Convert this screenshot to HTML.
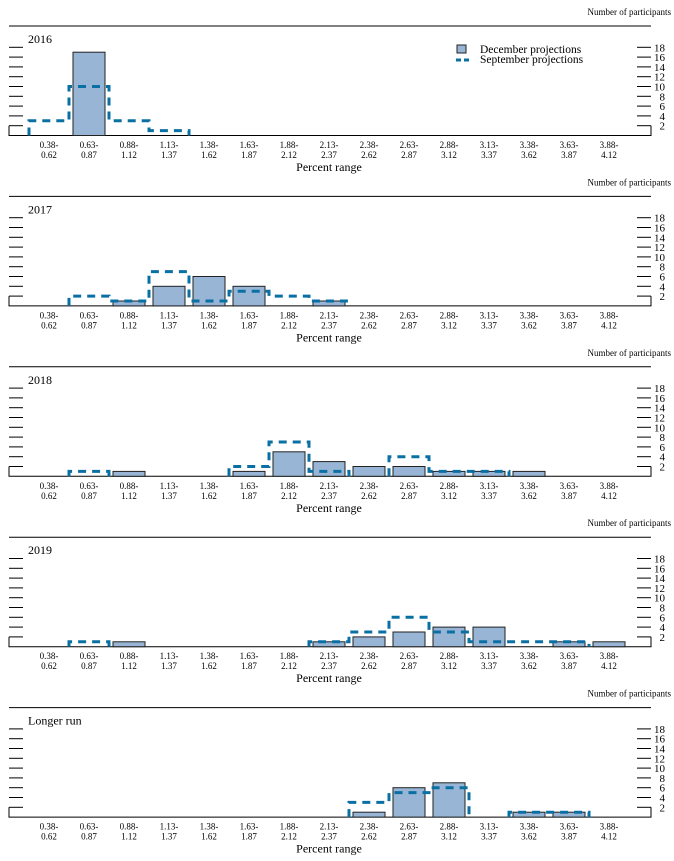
<!DOCTYPE html>
<html><head><meta charset="utf-8"><style>
body{margin:0;background:#fff}
svg{display:block;font-family:"Liberation Serif",serif}
</style></head><body>
<svg id="c" width="674" height="861"></svg>
<script>
const cats=["0.38-|0.62","0.63-|0.87","0.88-|1.12","1.13-|1.37","1.38-|1.62","1.63-|1.87","1.88-|2.12","2.13-|2.37","2.38-|2.62","2.63-|2.87","2.88-|3.12","3.13-|3.37","3.38-|3.62","3.63-|3.87","3.88-|4.12"];
const panelTitles=["2016","2017","2018","2019","Longer run"];
const decValues=[
[0,17,0,0,0,0,0,0,0,0,0,0,0,0,0],
[0,0,1,4,6,4,0,1,0,0,0,0,0,0,0],
[0,0,1,0,0,1,5,3,2,2,1,1,1,0,0],
[0,0,1,0,0,0,0,1,2,3,4,4,0,1,1],
[0,0,0,0,0,0,0,0,1,6,7,0,1,1,0]];
const sepValues=[
[3,10,3,1,0,0,0,0,0,0,0,0,0,0,0],
[0,2,1,7,1,3,2,1,0,0,0,0,0,0,0],
[0,1,0,0,0,2,7,1,0,4,1,1,0,0,0],
[0,1,0,0,0,0,0,1,3,6,3,1,1,1,0],
[0,0,0,0,0,0,0,0,3,5,6,0,1,1,0]];
const yTicks=[2,4,6,8,10,12,14,16,18];
const NS="http://www.w3.org/2000/svg";
const svg=document.getElementById('c');
function mk(t,a,p){const e=document.createElementNS(NS,t);for(const k in a)e.setAttribute(k,a[k]);(p||svg).appendChild(e);return e;}
const xC=i=>49+40*i;
for(let p=0;p<5;p++){
  const off=170.4*p, base=135.5+off;
  const y=v=>base-v*4.9;
  const g=mk('g',{});
  
  
  let t=mk('text',{x:671,y:15+off,'font-size':9,'text-anchor':'end'},g);t.textContent='Number of participants';
  
  
  mk('line',{x1:9,x2:651,y1:26+off,y2:26+off,stroke:'#000','stroke-width':1},g);
  t=mk('text',{x:28,y:43+off,'font-size':12},g);t.textContent=panelTitles[p];
  
  
  mk('path',{d:`M9,${y(2)}V${base}H651V${y(2)}`,fill:'none',stroke:'#000','stroke-width':1},g);
  yTicks.forEach(v=>{
    mk('line',{x1:9,x2:23,y1:y(v),y2:y(v),stroke:'#000','stroke-width':1},g);
    mk('line',{x1:637,x2:651,y1:y(v),y2:y(v),stroke:'#000','stroke-width':1},g);
    const tl=mk('text',{x:665,y:y(v)+4,'font-size':11,'text-anchor':'end'},g);tl.textContent=v;
    
    
  });
  decValues[p].forEach((v,i)=>{
    if(!v)return;
    const r=mk('rect',{x:xC(i)-16,y:y(v),width:32,height:base-y(v),fill:'#98b5d5',stroke:'#222','stroke-width':1},g);
    
    
  });
  const s=sepValues[p];let d='';let i=0;
  while(i<s.length){
    if(!s[i]){i++;continue;}
    d+=`M${xC(i)-20},${base}`;
    while(i<s.length&&s[i]){d+=`V${y(s[i])}H${xC(i)+20}`;i++;}
    d+=`V${base}`;
  }
  const ln=mk('path',{d:d,fill:'none',stroke:'#0a70a4','stroke-width':3,'stroke-dasharray':'8,6'},g);
  
  
  cats.forEach((c,i)=>{
    const [a,b]=c.split('|');
    const t1=mk('text',{x:xC(i),y:148+off,'font-size':9,'text-anchor':'middle'},g);t1.textContent=a;
    const t2=mk('text',{x:xC(i),y:158+off,'font-size':9,'text-anchor':'middle'},g);t2.textContent=b;
    
    
    
    
  });
  t=mk('text',{x:329,y:171+off,'font-size':12,'text-anchor':'middle'},g);t.textContent='Percent range';
  
  
}
const lg=mk('g',{});


mk('rect',{x:457,y:45,width:9,height:8,fill:'#98b5d5',stroke:'#222','stroke-width':1},lg);
let lt=mk('text',{x:480,y:53,'font-size':11.5},lg);lt.textContent='December projections';


mk('line',{x1:456,x2:472,y1:60,y2:60,stroke:'#0a70a4','stroke-width':3,'stroke-dasharray':'5,3'},lg);
lt=mk('text',{x:480,y:63,'font-size':11.5},lg);lt.textContent='September projections';


</script>
</body></html>
